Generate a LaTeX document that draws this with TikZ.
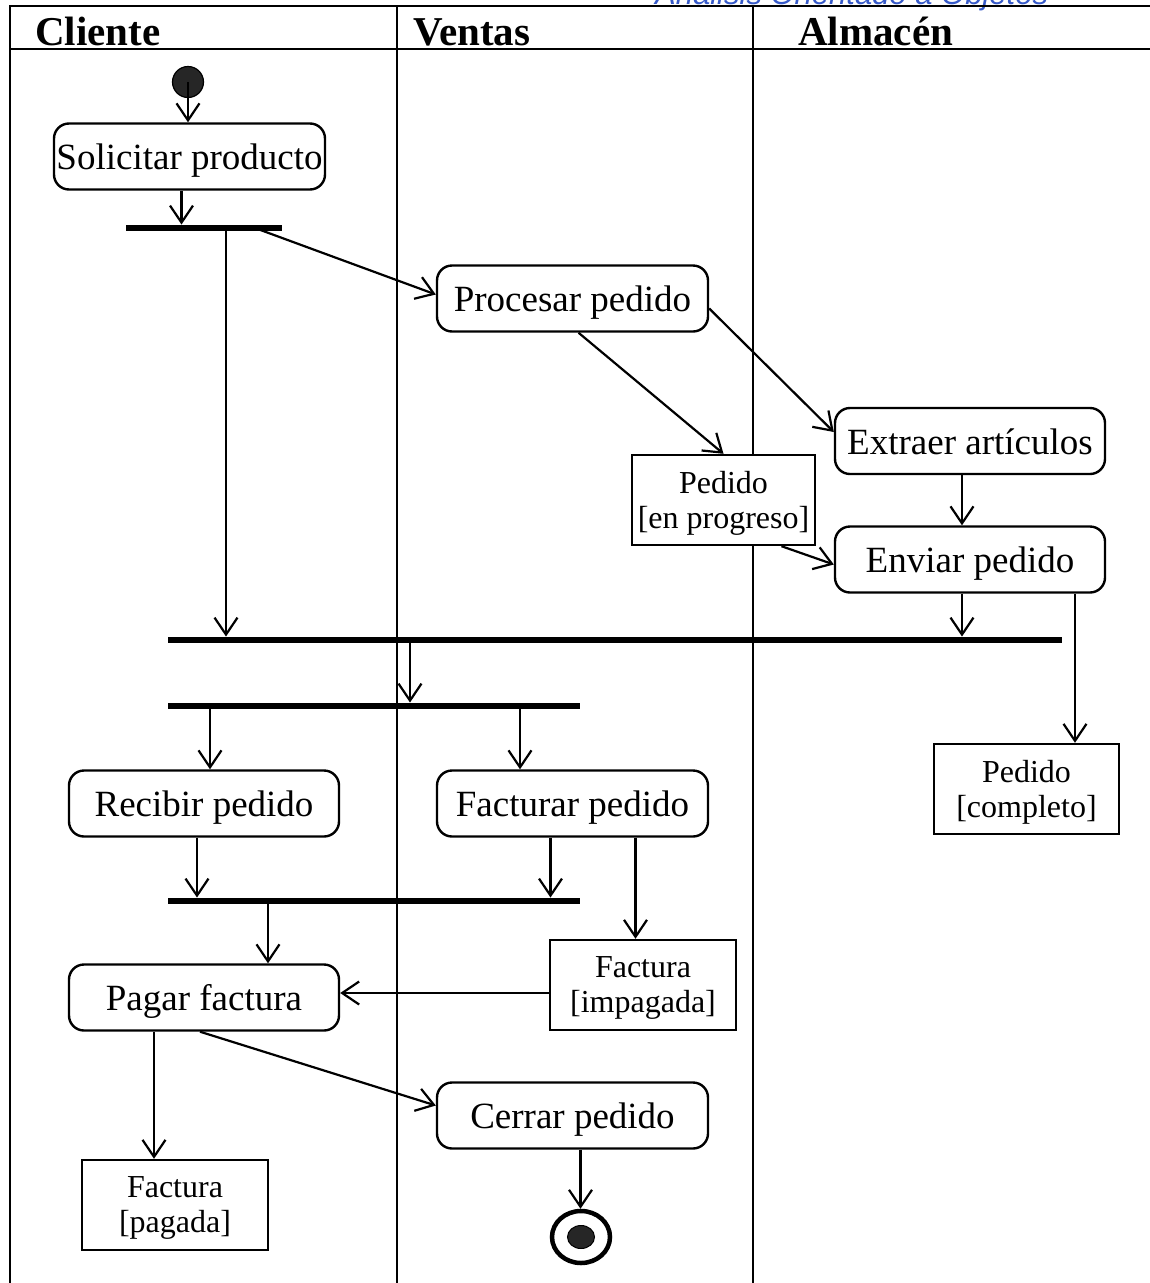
\documentclass[tikz,border=0pt]{standalone}
\usepackage{fontspec}
\setmainfont{Liberation Serif}
\newfontfamily\bluefont{Liberation Sans}
\usetikzlibrary{arrows.meta,calc,shapes.geometric}
\definecolor{dark}{RGB}{38,38,38}
\definecolor{titleblue}{RGB}{55,90,200}
\tikzset{
  arr/.style={line width=2.2pt,-{Straight Barb[length=17pt,width=23pt,line width=2.2pt]}},
  activity/.style={draw,fill=white,line width=2.4pt,rounded corners=15pt,minimum height=66pt,inner sep=0pt,text height=26pt,text depth=0pt,font=\fontsize{37}{40}\selectfont},
  objbox/.style={draw,fill=white,line width=2.4pt,inner sep=0pt,align=center,text depth=0pt,font=\fontsize{32}{35}\selectfont},
  bar/.style={fill=black,inner sep=0pt,minimum height=6.5pt},
  lane/.style={line width=2.6pt},
  header/.style={anchor=base west,inner sep=0pt,font=\fontsize{41}{44}\selectfont\bfseries}
}
\begin{document}
\begin{tikzpicture}[x=1pt,y=-1pt]
\useasboundingbox (0,0) rectangle (1150,1283);
% title cut off by the top edge
\node[anchor=base west,inner sep=0pt,text=titleblue,font=\bluefont\itshape\fontsize{31}{33}\selectfont] (ttl) at (655,4) {Análisis Orientado a Objetos};
% frame and lanes
\draw[lane] (10,1283) -- (10,6) -- (1150,6);
\draw[lane] (10,49) -- (1150,49);
\draw[lane] (397,6) -- (397,1283);
\draw[lane] (753,6) -- (753,1283);
\node[header] (h1) at (35,45) {Cliente};
\node[header] (h2) at (413,45) {Ventas};
\node[header] (h3) at (798,45) {Almacén};
% nodes
\node[circle,draw,line width=1.2pt,fill=dark,minimum size=31pt,inner sep=0pt] (start) at (188,82) {};
\node[activity,minimum width=271pt] (sol) at (189.5,156.5) {Solicitar producto};
\node[bar,minimum width=156pt] (fork1) at (204,228) {};
\node[activity,minimum width=271pt] (proc) at (572.5,298.5) {Procesar pedido};
\node[activity,minimum width=270pt] (extr) at (970,441) {Extraer artículos};
\node[objbox,minimum width=183pt,minimum height=90pt] (enprog) at (723.5,500) {Pedido\\{}[en progreso]};
\node[activity,minimum width=270pt] (env) at (970,559.5) {Enviar pedido};
\node[bar,minimum width=894pt] (join1) at (615,640) {};
\node[bar,minimum width=412pt] (fork2) at (374,706) {};
\node[activity,minimum width=270pt] (recib) at (204,803.5) {Recibir pedido};
\node[activity,minimum width=271pt] (fact) at (572.5,803.5) {Facturar pedido};
\node[objbox,minimum width=185pt,minimum height=90pt] (compl) at (1026.5,789) {Pedido\\{}[completo]};
\node[bar,minimum width=412pt] (join3) at (374,901) {};
\node[objbox,minimum width=186pt,minimum height=90pt] (impag) at (643,985) {Factura\\{}[impagada]};
\node[activity,minimum width=270pt] (pagar) at (204,997.5) {Pagar factura};
\node[activity,minimum width=271pt] (cerrar) at (572.5,1115.5) {Cerrar pedido};
\node[objbox,minimum width=186pt,minimum height=90pt] (pagada) at (175,1205) {Factura\\{}[pagada]};
\node[ellipse,draw,fill=white,line width=4.5pt,minimum width=58pt,minimum height=52pt,inner sep=0pt] (final) at (581,1237) {};
\node[ellipse,draw,line width=1pt,fill=dark,minimum width=27pt,minimum height=23pt,inner sep=0pt] (finalin) at (581,1237) {};
% coordinates for connector ends
\coordinate (c2) at ($(sol.south)+(-8,0)$);
\coordinate (c3) at ($(fork1.center)+(22,0)$);
\coordinate (c4) at ($(fork1.center)+(51,0)$);
\coordinate (c5) at ($(proc.south)+(6,0)$);
\coordinate (c6) at ($(proc.east)+(0,10)$);
\coordinate (c7) at ($(extr.south)+(-8,0)$);
\coordinate (c8) at ($(enprog.south)+(58,0)$);
\coordinate (c9) at ($(env.south)+(-8,0)$);
\coordinate (c10) at ($(env.south)+(105,0)$);
\coordinate (c11) at ($(join1.center)+(-205,0)$);
\coordinate (c12) at ($(fork2.center)+(-164,0)$);
\coordinate (c13) at ($(fork2.center)+(146,0)$);
\coordinate (c14) at ($(recib.south)+(-7,0)$);
\coordinate (c15) at ($(fact.south)+(-22,0)$);
\coordinate (c16) at ($(fact.south)+(63,0)$);
\coordinate (c17) at ($(join3.center)+(-106,0)$);
\coordinate (c18) at ($(impag.west)+(0,8)$);
\coordinate (c19) at ($(pagar.south)+(-50,0)$);
\coordinate (c20) at ($(pagar.south)+(-4,0)$);
\coordinate (c21) at ($(cerrar.south)+(8,0)$);
% connectors
\draw[arr] (start.center) -- (start.center |- sol.north);
\draw[arr] (c2) -- (c2 |- fork1.north);
\draw[arr] (c3) -- (c3 |- join1.north);
\draw[arr] (c4) -- ($(proc.west)+(0,-4)$);
\draw[arr] (c5) -- (enprog.north);
\draw[arr] (c6) -- ($(extr.west)+(0,-9)$);
\draw[arr] (c7) -- (c7 |- env.north);
\draw[arr] (c8) -- ($(env.west)+(0,5)$);
\draw[arr] (c9) -- (c9 |- join1.north);
\draw[arr] (c10) -- (c10 |- compl.north);
\draw[arr] (c11) -- (c11 |- fork2.north);
\draw[arr] (c12) -- (c12 |- recib.north);
\draw[arr] (c13) -- (c13 |- fact.north);
\draw[arr] (c14) -- (c14 |- join3.north);
\draw[arr] (c15) -- (c15 |- join3.north);
\draw[arr] (c16) -- (c16 |- impag.north);
\draw[arr] (c17) -- (c17 |- pagar.north);
\draw[arr] (c18) -- (c18 -| pagar.east);
\draw[arr] (c19) -- (c19 |- pagada.north);
\draw[arr] (c20) -- ($(cerrar.west)+(0,-10)$);
\draw[arr] (c21) -- (c21 |- final.north);
\end{tikzpicture}
\end{document}
